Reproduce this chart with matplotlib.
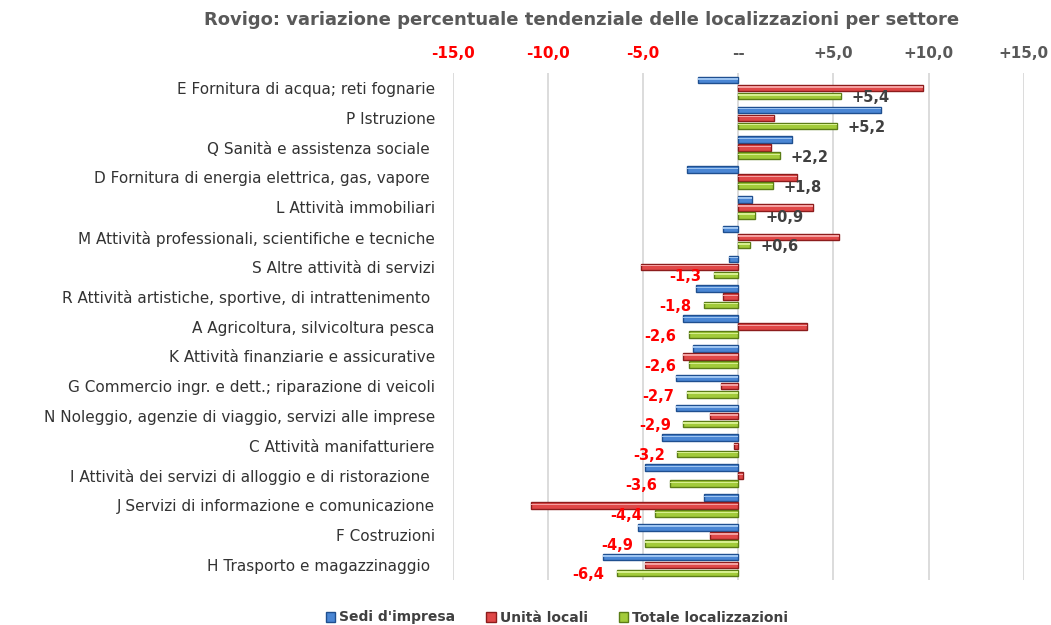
import matplotlib
matplotlib.use("Agg")
import matplotlib.pyplot as plt
from matplotlib.patches import Patch
import numpy as np

plt.rcParams["font.family"] = ["DejaVu Sans"]

# ------------------------------------------------------------------#
# Data
settori = [
    "E Fornitura di acqua; reti fognarie",
    "P Istruzione",
    "Q Sanità e assistenza sociale ",
    "D Fornitura di energia elettrica, gas, vapore ",
    "L Attività immobiliari",
    "M Attività professionali, scientifiche e tecniche",
    "S Altre attività di servizi",
    "R Attività artistiche, sportive, di intrattenimento ",
    "A Agricoltura, silvicoltura pesca",
    "K Attività finanziarie e assicurative",
    "G Commercio ingr. e dett.; riparazione di veicoli",
    "N Noleggio, agenzie di viaggio, servizi alle imprese",
    "C Attività manifatturiere",
    "I Attività dei servizi di alloggio e di ristorazione ",
    "J Servizi di informazione e comunicazione",
    "F Costruzioni",
    "H Trasporto e magazzinaggio ",
]
sedi = [-2.1, 7.5, 2.8, -2.7, 0.7, -0.8, -0.5, -2.2, -2.9, -2.4, -3.3, -3.3, -4.0, -4.9, -1.8, -5.3, -7.1]
unita = [9.7, 1.85, 1.7, 3.1, 3.95, 5.3, -5.1, -0.8, 3.6, -2.9, -0.9, -1.5, -0.25, 0.25, -10.9, -1.5, -4.9]
totale = [5.4, 5.2, 2.2, 1.8, 0.9, 0.6, -1.3, -1.8, -2.6, -2.6, -2.7, -2.9, -3.2, -3.6, -4.4, -4.9, -6.4]
xticks = [-15, -10, -5, 0, 5, 10, 15]

SERIES = [
    ("Sedi d'impresa", sedi, "#4a86d4", "#1f4f8f", "#9cc3f0"),
    ("Unità locali", unita, "#e04848", "#8c1c1c", "#f4a0a0"),
    ("Totale localizzazioni", totale, "#a2cb3a", "#5b7d16", "#d6ef8e"),
]
RED = "#ff0000"
GRAY = "#595959"


def fmt(v):
    if v == 0:
        return "--"
    return f"{v:+.1f}".replace(".", ",")


fig = plt.figure(figsize=(10.51, 6.25), dpi=100)
ax = fig.add_axes([0.431, 0.072, 0.543, 0.811])

y = np.arange(len(settori))
step = 0.27
h = 0.22
for i, (name, vals, col, edge, hi) in enumerate(SERIES):
    yy = y + (i - 1) * step
    ax.barh(yy, vals, height=h, color=col, edgecolor=edge, linewidth=1.0, zorder=3)
    # light highlight band for the bevel look
    ax.barh(yy - h * 0.18, vals, height=h * 0.22, color=hi, linewidth=0, zorder=4)

# labels for Totale
for yi, v in zip(y, totale):
    yy = yi + step + 0.06
    if v >= 0:
        ax.text(v + 0.55, yy, fmt(v), ha="left", va="center", fontsize=10.5,
                fontweight="bold", color="#404040", zorder=5)
    else:
        ax.text(v - 0.65, yy, fmt(v), ha="right", va="center", fontsize=10.5,
                fontweight="bold", color=RED, zorder=5)

ax.set_xlim(-15, 15)
ax.set_ylim(len(settori) - 0.5, -0.5)
ax.set_xticks(xticks)
ax.set_xticklabels([fmt(t) for t in xticks])
ax.xaxis.tick_top()
ax.tick_params(axis="x", length=0, pad=9, labelsize=11)
for lab, t in zip(ax.get_xticklabels(), xticks):
    lab.set_fontweight("bold")
    lab.set_color(RED if t < 0 else GRAY)

ax.set_yticks(y)
ax.set_yticklabels(settori, fontsize=11, color="#333333")
ax.tick_params(axis="y", length=0, pad=13)

ax.grid(axis="x", color="#dcdcdc", linewidth=1.4, zorder=0)
ax.set_axisbelow(True)
for sp in ax.spines.values():
    sp.set_visible(False)

fig.text(0.553, 0.968, "Rovigo: variazione percentuale tendenziale delle localizzazioni per settore",
         ha="center", va="center", fontsize=13, fontweight="bold", color="#595959")

handles = [Patch(facecolor=c, edgecolor=e, label=n) for n, _, c, e, _ in SERIES]
leg = fig.legend(handles=handles, loc="center", bbox_to_anchor=(0.53, 0.012), ncol=3,
                 frameon=False, handlelength=0.7, handleheight=0.7, columnspacing=2.2,
                 handletextpad=0.3, prop={"size": 10, "weight": "bold"})
for t in leg.get_texts():
    t.set_color("#404040")

fig.savefig("out.png", dpi=100)
